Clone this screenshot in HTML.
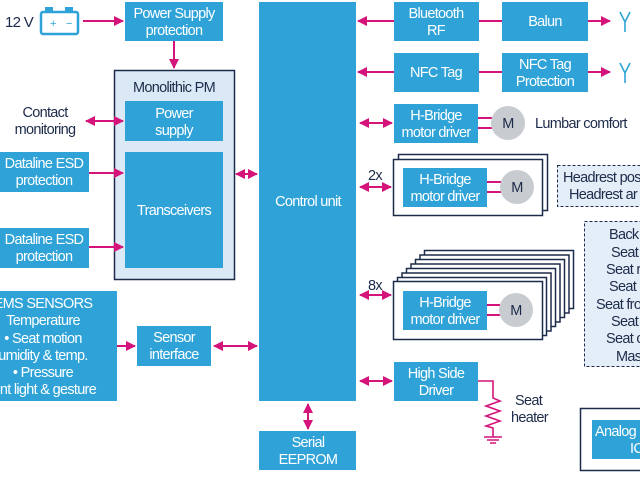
<!DOCTYPE html>
<html><head><meta charset="utf-8"><style>
html,body{margin:0;padding:0;background:#fff;width:640px;height:480px;overflow:hidden}
svg text{font-family:"Liberation Sans",sans-serif;font-size:14.5px;letter-spacing:-0.7px}
.w{fill:#fff;text-anchor:middle}
.d{fill:#1d2b4a;text-anchor:middle}
.b{fill:#2fa3d8}
.fr{fill:#fff;stroke:#1d2b4a;stroke-width:1.5}
.p{stroke:#d4147a;stroke-width:2;fill:none}
</style></head><body>
<svg width="640" height="480" viewBox="0 0 640 480" xmlns="http://www.w3.org/2000/svg">
<defs>
<marker id="a" viewBox="0 0 10 10" refX="9" refY="5" markerWidth="5" markerHeight="5" orient="auto-start-reverse"><path d="M0,0L10,5L0,10z" fill="#d4147a"/></marker>
</defs>
<text x="5" y="27" style="fill:#1d2b4a;font-size:15px">12 V</text>
<rect x="41" y="12" width="37" height="22" rx="2" fill="none" stroke="#2fa3d8" stroke-width="2.5"/>
<rect x="45" y="7" width="8" height="4" fill="#2fa3d8"/><rect x="65" y="7" width="8" height="4" fill="#2fa3d8"/>
<text x="50" y="27" style="fill:#2fa3d8;font-size:11px">+</text><text x="66" y="27" style="fill:#2fa3d8;font-size:11px">−</text>
<line class="p" x1="83" y1="21" x2="123" y2="21" marker-end="url(#a)"/>
<rect class="b" x="125" y="2" width="98" height="39"/>
<text class="w" x="174" y="18">Power Supply</text><text class="w" x="174" y="35">protection</text>
<line class="p" x1="174" y1="41" x2="174" y2="68" marker-end="url(#a)"/>
<rect x="114.5" y="70.5" width="120" height="209" fill="#dbe9f6" stroke="#1d2b4a" stroke-width="1.5"/>
<text class="d" x="174" y="92">Monolithic PM</text>
<rect class="b" x="125" y="101" width="98" height="40"/>
<text class="w" x="174" y="118">Power</text><text class="w" x="174" y="135">supply</text>
<rect class="b" x="125" y="152" width="98" height="116"/>
<text class="w" x="174" y="215">Transceivers</text>
<text class="d" x="45" y="117">Contact</text><text class="d" x="45" y="134">monitoring</text>
<line class="p" x1="86" y1="121" x2="123" y2="121" marker-start="url(#a)" marker-end="url(#a)"/>
<rect class="b" x="0" y="152" width="89" height="40"/>
<text class="w" x="44" y="168">Dataline ESD</text><text class="w" x="44" y="185">protection</text>
<line class="p" x1="89" y1="173" x2="123" y2="173" marker-end="url(#a)"/>
<rect class="b" x="0" y="228" width="89" height="40"/>
<text class="w" x="44" y="244">Dataline ESD</text><text class="w" x="44" y="261">protection</text>
<line class="p" x1="89" y1="247" x2="123" y2="247" marker-end="url(#a)"/>
<line class="p" x1="236" y1="174" x2="257" y2="174" marker-start="url(#a)" marker-end="url(#a)"/>
<rect class="b" x="259" y="2" width="97" height="399"/>
<text class="w" x="308" y="206">Control unit</text>
<line class="p" x1="308" y1="404" x2="308" y2="429" marker-start="url(#a)" marker-end="url(#a)"/>
<rect class="b" x="259" y="431" width="97" height="39"/>
<text class="w" x="308" y="447">Serial</text><text class="w" x="308" y="464">EEPROM</text>
<rect class="b" x="0" y="291" width="117" height="110"/>
<text class="w" x="43" y="308">EMS SENSORS</text><text class="w" x="43" y="325">Temperature</text><text class="w" x="43" y="343">• Seat motion</text><text class="w" x="43" y="360">umidity &amp; temp.</text><text class="w" x="43" y="377">• Pressure</text><text class="w" x="43" y="394">ient light &amp; gesture</text>
<line class="p" x1="117" y1="346" x2="135" y2="346" marker-end="url(#a)"/>
<rect class="b" x="137" y="326" width="74" height="40"/>
<text class="w" x="174" y="342">Sensor</text><text class="w" x="174" y="359">interface</text>
<line class="p" x1="214" y1="346" x2="257" y2="346" marker-start="url(#a)" marker-end="url(#a)"/>
<line class="p" x1="358" y1="21" x2="394" y2="21" marker-start="url(#a)"/>
<rect class="b" x="394" y="2" width="85" height="39"/>
<text class="w" x="436" y="18">Bluetooth</text><text class="w" x="436" y="35">RF</text>
<line class="p" x1="479" y1="21" x2="502" y2="21"/>
<rect class="b" x="502" y="2" width="86" height="39"/>
<text class="w" x="545" y="26">Balun</text>
<line class="p" x1="588" y1="21" x2="610" y2="21" marker-end="url(#a)"/>
<path d="M620,12 L625,22 L630,12 M625,22 V32" stroke="#2fa3d8" stroke-width="1.6" fill="none"/>
<line class="p" x1="358" y1="72" x2="394" y2="72" marker-start="url(#a)"/>
<rect class="b" x="394" y="53" width="85" height="39"/>
<text class="w" x="436" y="77">NFC Tag</text>
<line class="p" x1="479" y1="72" x2="502" y2="72"/>
<rect class="b" x="502" y="53" width="86" height="39"/>
<text class="w" x="545" y="69">NFC Tag</text><text class="w" x="545" y="86">Protection</text>
<line class="p" x1="588" y1="72" x2="610" y2="72" marker-end="url(#a)"/>
<path d="M620,63 L625,73 L630,63 M625,73 V83" stroke="#2fa3d8" stroke-width="1.6" fill="none"/>
<line class="p" x1="360" y1="123" x2="392" y2="123" marker-start="url(#a)" marker-end="url(#a)"/>
<rect class="b" x="394" y="104" width="84" height="39"/>
<text class="w" x="436" y="120">H-Bridge</text><text class="w" x="436" y="137">motor driver</text>
<line class="p" x1="478" y1="118" x2="492" y2="118"/><line class="p" x1="478" y1="128" x2="492" y2="128"/>
<circle cx="508" cy="123" r="17" fill="#c8cbd0"/>
<text class="d" x="508" y="128">M</text>
<text x="535" y="128" style="fill:#1d2b4a">Lumbar comfort</text>
<text class="d" x="375" y="180">2x</text>
<line class="p" x1="360" y1="187" x2="391" y2="187" marker-start="url(#a)" marker-end="url(#a)"/>
<rect class="fr" x="398.5" y="154.5" width="149" height="56"/>
<rect class="fr" x="393.5" y="159.5" width="149" height="56"/>
<rect class="b" x="403" y="168" width="84" height="39"/>
<text class="w" x="445" y="184">H-Bridge</text><text class="w" x="445" y="201">motor driver</text>
<line class="p" x1="487" y1="182" x2="501" y2="182"/><line class="p" x1="487" y1="192" x2="501" y2="192"/>
<circle cx="517" cy="187" r="17" fill="#c8cbd0"/><text class="d" x="517" y="192">M</text>
<rect x="557.5" y="165.5" width="90" height="41" fill="#e3eef8" stroke="#1d2b4a" stroke-dasharray="3,2"/>
<text x="563" y="182" style="fill:#1d2b4a">Headrest pos</text><text x="569" y="199" style="fill:#1d2b4a">Headrest ar</text>
<text class="d" x="375" y="290">8x</text>
<line class="p" x1="360" y1="295" x2="391" y2="295" marker-start="url(#a)" marker-end="url(#a)"/>
<rect class="fr" x="424.5" y="250.5" width="149" height="58"/>
<rect class="fr" x="420" y="255" width="149" height="58"/>
<rect class="fr" x="415.5" y="259.5" width="149" height="58"/>
<rect class="fr" x="411" y="264" width="149" height="58"/>
<rect class="fr" x="406.5" y="268.5" width="149" height="58"/>
<rect class="fr" x="402" y="273" width="149" height="58"/>
<rect class="fr" x="397.5" y="277.5" width="149" height="58"/>
<rect class="fr" x="393.5" y="281.5" width="149" height="58"/>
<rect class="b" x="403" y="291" width="84" height="39"/>
<text class="w" x="445" y="307">H-Bridge</text><text class="w" x="445" y="324">motor driver</text>
<line class="p" x1="487" y1="305" x2="500" y2="305"/><line class="p" x1="487" y1="315" x2="500" y2="315"/>
<circle cx="516" cy="310" r="17" fill="#c8cbd0"/><text class="d" x="516" y="315">M</text>
<rect x="584.5" y="221.5" width="70" height="145" fill="#e3eef8" stroke="#1d2b4a" stroke-dasharray="3,2"/>
<g style="fill:#1d2b4a">
<text x="609" y="239">Back</text><text x="611" y="257">Seat</text><text x="606" y="274">Seat r</text><text x="609" y="291">Seat</text><text x="596" y="309">Seat fro</text><text x="611" y="326">Seat</text><text x="606" y="343">Seat c</text><text x="616" y="361">Mas</text>
</g>
<line class="p" x1="360" y1="381" x2="392" y2="381" marker-start="url(#a)" marker-end="url(#a)"/>
<rect class="b" x="394" y="362" width="84" height="39"/>
<text class="w" x="436" y="378">High Side</text><text class="w" x="436" y="395">Driver</text>
<path class="p" style="stroke-width:1.6" d="M478,381 H493 V398 L500,401 L486,406 L500,411 L486,416 L500,421 L486,426 L493,428 V437"/>
<path d="M484,437 H502 M487,440 H499 M490,443 H496" stroke="#d4147a" stroke-width="1.5"/>
<text x="515" y="405" style="fill:#1d2b4a">Seat</text><text x="511" y="422" style="fill:#1d2b4a">heater</text>
<rect class="fr" x="580.5" y="408.5" width="70" height="62"/>
<rect class="b" x="592" y="420" width="60" height="39"/>
<text x="595" y="436" style="fill:#fff">Analog</text><text x="630" y="453" style="fill:#fff">IC</text>
</svg>
</body></html>
